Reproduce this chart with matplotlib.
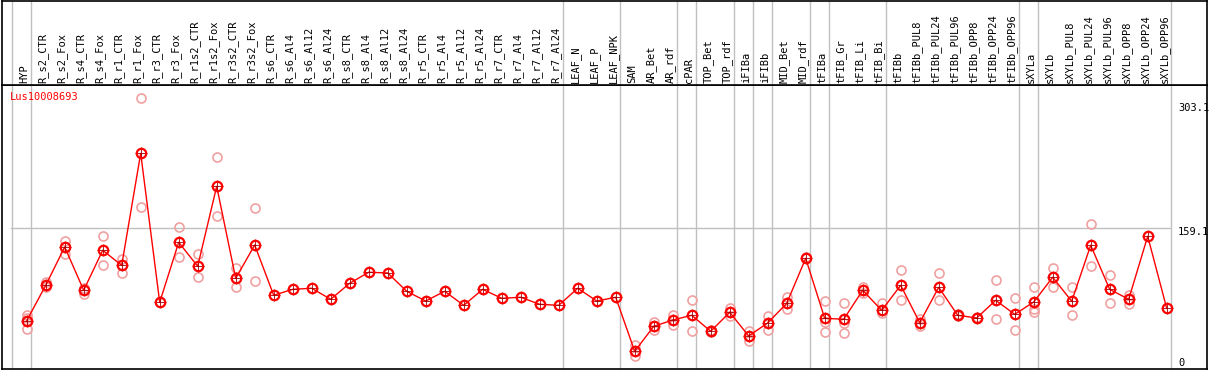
import numpy as np
import matplotlib.pyplot as plt

gene = "Lus10008693"

samples = ["HYP", "R_s2_CTR", "R_s2_Fox", "R_s4_CTR", "R_s4_Fox", "R_r1_CTR", "R_r1_Fox",
           "R_r3_CTR", "R_r3_Fox", "R_r1s2_CTR", "R_r1s2_Fox", "R_r3s2_CTR", "R_r3s2_Fox",
           "R_s6_CTR", "R_s6_Al4", "R_s6_Al12", "R_s6_Al24", "R_s8_CTR", "R_s8_Al4",
           "R_s8_Al12", "R_s8_Al24", "R_r5_CTR", "R_r5_Al4", "R_r5_Al12", "R_r5_Al24",
           "R_r7_CTR", "R_r7_Al4", "R_r7_Al12", "R_r7_Al24", "LEAF_N", "LEAF_P", "LEAF_NPK",
           "SAM", "AR_Bet", "AR_rdf", "cPAR", "TOP_Bet", "TOP_rdf", "iFIBa", "iFIBb",
           "MID_Bet", "MID_rdf", "tFIBa", "tFIB_Gr", "tFIB_Li", "tFIB_Bi", "tFIBb",
           "tFIBb_PUL8", "tFIBb_PUL24", "tFIBb_PUL96", "tFIBb_OPP8", "tFIBb_OPP24",
           "tFIBb_OPP96", "sXYLa", "sXYLb", "sXYLb_PUL8", "sXYLb_PUL24", "sXYLb_PUL96",
           "sXYLb_OPP8", "sXYLb_OPP24", "sXYLb_OPP96"]

means = [52.3, 93.2, 137.5, 87.5, 133.7, 116.3, 245.7, 73.6, 142.9, 115.2, 207.6, 101.3,
         139.8, 81.7, 88.6, 89.8, 77.1, 95.6, 108.3, 107.5, 86.3, 75.1, 86.3, 70.1, 88.6,
         78.2, 79.4, 71.3, 70.1, 89.8, 75.1, 79.4, 17.0, 45.8, 53.1, 58.6, 40.1, 62.0,
         34.7, 49.7, 72.4, 124.4, 55.1, 54.0, 87.5, 64.3, 93.2, 50.0, 90.9, 58.6, 55.5,
         75.9, 59.7, 73.9, 102.5, 74.8, 139.5, 88.6, 77.1, 149.9, 66.7]

replicates = [[58.6, 42.4, 55.0], [96.7, 90.9], [144.4, 129.8], [90.1, 83.6], [149.8, 116.3],
              [123.6, 107.8], [309.3, 183.3], [], [160.2, 125.6], [129.4, 102.5],
              [241.1, 173.3], [112.9, 90.9], [182.2, 98.2], [], [], [], [], [], [], [],
              [], [], [], [], [], [], [], [], [], [], [], [],
              [23.9, 11.9], [51.2, 41.6], [59.3, 47.0], [75.9, 40.4], [41.5, 38.8],
              [67.0, 57.8], [40.8, 28.5], [57.4, 41.2], [79.4, 66.2], [126.0],
              [74.8, 50.5, 39.0], [72.4, 49.7, 37.8], [91.3, 84.3], [72.4, 60.9],
              [110.6, 75.9], [54.7, 46.2], [107.1, 75.9], [60.0, 57.5], [57.0],
              [99.0, 54.0], [78.2, 41.2], [90.9, 65.5, 62.4], [112.9, 90.9],
              [90.9, 58.6], [163.7, 115.2], [104.8, 72.4], [82.0, 72.0], [], []]

# group separators (after these sample indices)
breaks = [-1, 0, 28, 31, 34, 35, 37, 38, 39, 41, 42, 45, 52, 53, 60]
ytick_vals = [0, 159.1, 303.1]
ytick_text = ["0", "159.1", "303.1"]

W, H = 1209, 370
fig = plt.figure(figsize=(W / 100, H / 100), dpi=100)

# pixel -> data mapping
x0, dx = 26.7, 19.0
y_zero, k = 366.0, 0.8655
left_px, right_px = 2, 1207
xlim = ((left_px - x0) / dx, (right_px - x0) / dx)

ax = fig.add_axes([left_px / W, 1 / H, (right_px - left_px) / W, (369 - 85) / H])
ax.set_xlim(*xlim)
ax.set_ylim((y_zero - 369) / k, (y_zero - 85) / k)

hdr = fig.add_axes([left_px / W, (H - 85) / H, (right_px - left_px) / W, 84 / H])
hdr.set_xlim(*xlim)
hdr.set_ylim(0, 1)

for a in (ax, hdr):
    a.set_xticks([])
    a.set_yticks([])
    for s in a.spines.values():
        s.set_color("black")
        s.set_linewidth(1.2)
    for b in breaks:
        a.axvline(b + 4 / dx, color="#c0c0c0", lw=1, zorder=0)

ax.plot([xlim[0] + (10.7 - left_px) / dx, (1170 - x0) / dx], [159.1, 159.1],
        color="#c0c0c0", lw=1, zorder=0)

x = np.arange(len(samples))
for i, reps in enumerate(replicates):
    if reps:
        ax.plot([i] * len(reps), reps, "o", ms=6.5, mfc="none", mec="#f0a0a0",
                mew=1.2, zorder=2)
ax.plot(x, means, "-", color="red", lw=1, zorder=3)
ax.plot(x, means, "+", ms=8.5, color="#a00000", mew=0.6, zorder=4)
ax.plot(x, means, "o", ms=6.8, mfc="none", mec="red", mew=1.6, zorder=5)

ax.text((10 - x0) / dx, (y_zero - 97) / k, gene, color="red", fontsize=7.5,
        family="DejaVu Sans Mono", va="center", ha="left")

for v, t in zip(ytick_vals, ytick_text):
    yy = v if v > 0 else 8
    ax.text((1178 - x0) / dx, yy + 1, t, fontsize=7.5, family="DejaVu Sans Mono",
            va="top", ha="left")

for i, name in enumerate(samples):
    hdr.text(i - 2.5 / dx, 0.02, name, rotation=90, fontsize=7.5,
             family="DejaVu Sans Mono", ha="center", va="bottom")

fig.savefig("out.png", dpi=100)
